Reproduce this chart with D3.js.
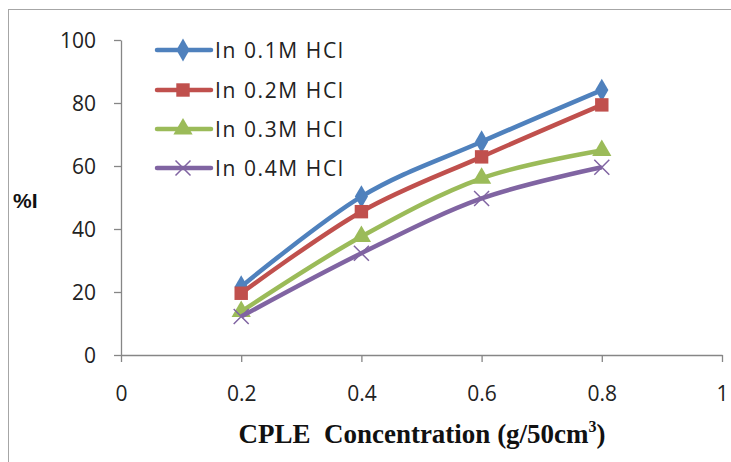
<!DOCTYPE html>
<html><head><meta charset="utf-8">
<script src="https://cdn.jsdelivr.net/npm/d3@7"></script>
<style>body{margin:0;background:#fff}svg{display:block}</style>
</head><body><svg id="c" width="731" height="462"></svg>
<script>
const xValues = [0.2, 0.4, 0.6, 0.8];
const s01 = [21.7, 50.3, 67.7, 84.1];
const s02 = [19.6, 45.5, 62.9, 79.4];
const s03 = [13.8, 37.6, 56.1, 64.9];
const s04 = [12.2, 32.3, 49.7, 59.6];
const seriesNames = ["In 0.1M HCl", "In 0.2M HCl", "In 0.3M HCl", "In 0.4M HCl"];
const xTicks = [0, 0.2, 0.4, 0.6, 0.8, 1];
const yTicks = [0, 20, 40, 60, 80, 100];

const series = [
  {name: seriesNames[0], values: s01, color: "#4F81BD", marker: "diamond"},
  {name: seriesNames[1], values: s02, color: "#C0504D", marker: "square"},
  {name: seriesNames[2], values: s03, color: "#9BBB59", marker: "triangle"},
  {name: seriesNames[3], values: s04, color: "#8064A2", marker: "x"}
];

const svg = d3.select("#c");
svg.append("rect").attr("x", 8.5).attr("y", 9.5).attr("width", 800).attr("height", 500)
  .attr("fill", "none").attr("stroke", "#a6a6a6").attr("stroke-width", 1);

const x = d3.scaleLinear().domain([0, 1]).range([121, 722]);
const y = d3.scaleLinear().domain([0, 100]).range([355, 40]);
const axisColor = "#868686";
const labelFont = "'Open Sans', sans-serif";

const gx = svg.append("g").attr("transform", "translate(0,355)")
  .call(d3.axisBottom(x).tickValues(xTicks).tickFormat(d => d === 0 ? "0" : d === 1 ? "1" : d3.format(".1f")(d)).tickSize(7).tickSizeOuter(0));
const gy = svg.append("g").attr("transform", "translate(121,0)")
  .call(d3.axisLeft(y).tickValues(yTicks).tickSize(7).tickSizeOuter(0));
[gx, gy].forEach(g => {
  g.select(".domain").attr("stroke", axisColor).attr("stroke-width", 1.3);
  g.selectAll(".tick line").attr("stroke", axisColor).attr("stroke-width", 1.3);
  g.selectAll(".tick text").attr("fill", "#222").style("font-family", labelFont).style("font-size", "21px");
});
gx.selectAll(".tick text").attr("dy", "0").attr("y", 46);
gy.selectAll(".tick text").attr("x", -25).attr("dy", "0.36em");

const line = d3.line().x((d, i) => x(xValues[i])).y(d => y(d)).curve(d3.curveCatmullRom.alpha(0));

function drawMarker(g, type, cx, cy, color) {
  if (type === "diamond") {
    g.append("path").attr("d", d3.symbol(d3.symbolDiamond, 150)()).attr("transform", `translate(${cx},${cy})`).attr("fill", color);
  } else if (type === "square") {
    g.append("path").attr("d", d3.symbol(d3.symbolSquare, 180)()).attr("transform", `translate(${cx},${cy})`).attr("fill", color);
  } else if (type === "triangle") {
    g.append("path").attr("d", d3.symbol(d3.symbolTriangle, 160)()).attr("transform", `translate(${cx},${cy})`).attr("fill", color);
  } else {
    const r = 7.5;
    g.append("path").attr("d", `M${cx-r},${cy-r}L${cx+r},${cy+r}M${cx-r},${cy+r}L${cx+r},${cy-r}`)
      .attr("stroke", color).attr("stroke-width", 1.5).attr("fill", "none");
  }
}

series.forEach(s => {
  const g = svg.append("g");
  g.append("path").attr("d", line(s.values)).attr("fill", "none").attr("stroke", s.color).attr("stroke-width", 4.5).attr("stroke-linejoin", "round");
  s.values.forEach((v, i) => drawMarker(g, s.marker, x(xValues[i]), y(v), s.color));
});

// legend
const legY = [50, 90, 129, 168];
series.forEach((s, i) => {
  const g = svg.append("g");
  g.append("line").attr("x1", 157).attr("x2", 211).attr("y1", legY[i]).attr("y2", legY[i])
    .attr("stroke", s.color).attr("stroke-width", 4.5).attr("stroke-linecap", "round");
  drawMarker(g, s.marker, 183, legY[i], s.color);
  g.append("text").attr("x", 215).attr("y", legY[i]).attr("dy", "0.36em")
    .style("font-family", labelFont).style("font-size", "21px").style("letter-spacing", "1.6px").attr("fill", "#222")
    .text(s.name);
});

svg.append("text").attr("x", 13).attr("y", 208).style("font-family", "'Liberation Sans', Arial, sans-serif")
  .style("font-weight", "bold").style("font-size", "21px").attr("fill", "#111").text("%I");

const t = svg.append("text").attr("x", 422).attr("y", 443).attr("text-anchor", "middle")
  .style("font-family", "'Liberation Serif', 'Times New Roman', serif").style("font-weight", "bold").style("font-size", "27px").attr("fill", "#111")
  .attr("xml:space", "preserve");
t.append("tspan").text("CPLE  Concentration (g/50cm");
t.append("tspan").attr("dy", -11).style("font-size", "16px").text("3");
t.append("tspan").attr("dy", 11).text(")");
</script></body></html>
